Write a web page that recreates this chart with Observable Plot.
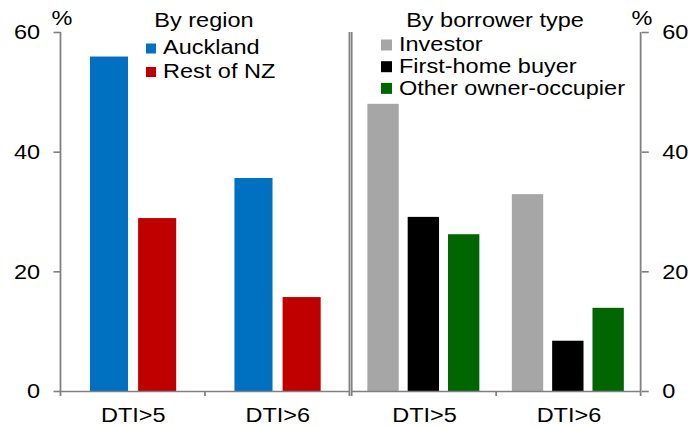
<!DOCTYPE html>
<html>
<head>
<meta charset="utf-8">
<script src="https://cdn.jsdelivr.net/npm/d3@7"></script>
<script src="https://cdn.jsdelivr.net/npm/@observablehq/plot@0.6"></script>
<style>
  html, body { margin: 0; padding: 0; background: #ffffff; }
  #outer { position: relative; width: 688px; height: 427px; overflow: hidden; background: #fff; }
  #chart { position: absolute; left: 0; top: 0; height: 427px; transform-origin: 0 0;
           font-family: "Liberation Sans", Arial, sans-serif; }
  #chart svg { position: absolute; top: 0; }
</style>
</head>
<body>
<div id="outer"><div id="chart"></div></div>
<script>
// ---- data ----
const categories = ["DTI>5", "DTI>6"];
const yTicks = [0, 20, 40, 60];

const regionTitle = "By region";
const regionSeries = ["Auckland", "Rest of NZ"];
const regionColors = ["#0070C0", "#C00000"];
const aucklandValues = [55.9, 35.6];
const restOfNZValues = [28.9, 15.7];

const borrowerTitle = "By borrower type";
const borrowerSeries = ["Investor", "First-home buyer", "Other owner-occupier"];
const borrowerColors = ["#A6A6A6", "#000000", "#006600"];
const investorValues = [48.0, 32.9];
const firstHomeValues = [29.1, 8.4];
const otherOwnerValues = [26.2, 13.9];

const unitLabel = "%";

// ---- tables ----
function table(series, valueLists) {
  const rows = [];
  categories.forEach((c, i) => series.forEach((s, j) => rows.push({dti: c, series: s, value: valueLists[j][i]})));
  return rows;
}
const regionData = table(regionSeries, [aucklandValues, restOfNZValues]);
const borrowerData = table(borrowerSeries, [investorValues, firstHomeValues, otherOwnerValues]);

const FONT = '"Liberation Sans", Arial, sans-serif';
const AXIS = "#808080";
const FS = 21;
// the reference is drawn slightly wide: lay out in narrower units, then stretch horizontally
const S = 1.12;
const X = v => v / S;

const chart = document.getElementById("chart");
chart.style.width = X(688) + "px";
chart.style.transform = `scaleX(${S})`;

function panel({data, series, colors, width, marginLeft, marginRight, pInner, pOuter, anchor}) {
  return Plot.plot({
    width, height: 427, marginLeft, marginRight, marginTop: 32, marginBottom: 36,
    style: {fontFamily: FONT, fontSize: FS + "px", color: "black", background: "transparent", overflow: "visible"},
    fx: {domain: categories, padding: 0, label: null},
    x: {domain: series, paddingInner: pInner, paddingOuter: pOuter, axis: null},
    y: {domain: [0, 60], axis: null},
    color: {domain: series, range: colors},
    marks: [
      Plot.barY(data, {fx: "dti", x: "series", y: "value", fill: "series"}),
      Plot.ruleY([0], {stroke: AXIS, strokeWidth: 1.6}),
      Plot.axisY({anchor, ticks: yTicks, tickSize: X(7), tickPadding: X(14), stroke: AXIS, strokeWidth: 1.6, fill: "black", label: null, fontSize: FS}),
      Plot.axisFx({anchor: "bottom", tickSize: 0, tickPadding: 16, label: null, fill: "black", fontSize: FS})
    ]
  });
}

function frameLines(plot) {
  const fx = plot.scale("fx"), y = plot.scale("y");
  const y0 = y.apply(0), y1 = y.apply(60);
  const edges = fx.domain.map(d => fx.apply(d));
  edges.push(fx.apply(fx.domain[fx.domain.length - 1]) + fx.bandwidth);
  const g = d3.select(plot).append("g").attr("stroke", AXIS).attr("stroke-width", 1.6);
  [edges[0], edges[edges.length - 1]].forEach(x => g.append("line").attr("x1", x).attr("x2", x).attr("y1", y1).attr("y2", y0));
  edges.forEach(x => g.append("line").attr("x1", x).attr("x2", x).attr("y1", y0).attr("y2", y0 + 5));
  return plot;
}

const left = frameLines(panel({data: regionData, series: regionSeries, colors: regionColors,
  width: X(350), marginLeft: X(59), marginRight: 0, pInner: 0.204, pOuter: 0.582, anchor: "left"}));
const right = frameLines(panel({data: borrowerData, series: borrowerSeries, colors: borrowerColors,
  width: X(338), marginLeft: 0, marginRight: X(47), pInner: 0.214, pOuter: 0.394, anchor: "right"}));
left.style.left = "0px";
right.style.left = X(350) + "px";
chart.appendChild(left);
chart.appendChild(right);

// ---- titles, unit labels, legends ----
const ov = d3.select(chart).append("svg").attr("width", X(688)).attr("height", 427)
  .style("left", "0px").style("font-family", FONT).style("font-size", FS + "px");
ov.append("text").attr("x", X(62)).attr("y", 25).attr("text-anchor", "middle").text(unitLabel);
ov.append("text").attr("x", X(642)).attr("y", 25).attr("text-anchor", "middle").text(unitLabel);
ov.append("text").attr("x", X(204)).attr("y", 27).attr("text-anchor", "middle").text(regionTitle);
ov.append("text").attr("x", X(495)).attr("y", 27).attr("text-anchor", "middle").text(borrowerTitle);

function legend(series, colors, x, y0, step, size) {
  series.forEach((s, i) => {
    const yb = y0 + i * step;
    ov.append("rect").attr("x", X(x)).attr("y", yb - size - 1).attr("width", X(size)).attr("height", size).attr("fill", colors[i]);
    ov.append("text").attr("x", X(x + size + 7)).attr("y", yb).text(s);
  });
}
legend(regionSeries, regionColors, 146, 54.5, 23.5, 10);
legend(borrowerSeries, borrowerColors, 381, 51.5, 21.7, 11);
</script>
</body>
</html>
